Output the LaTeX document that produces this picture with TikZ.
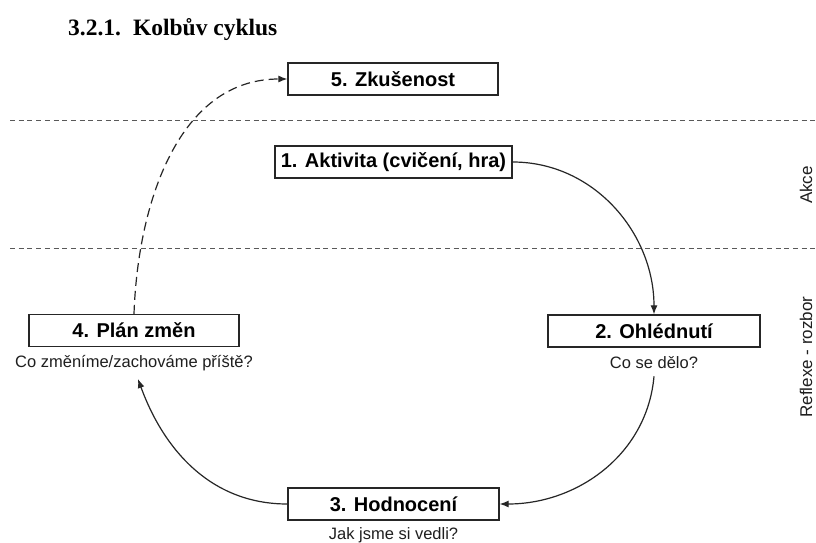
\documentclass[tikz,border=0pt]{standalone}
\usepackage{fontspec}
\setmainfont{Liberation Sans}
\newfontfamily\titlefont{Liberation Serif}
\usetikzlibrary{arrows.meta}

\begin{document}
\begin{tikzpicture}[x=1pt,y=-1pt,
  stage/.style={draw=black!85, line width=1.3pt, minimum height=32pt,
    inner sep=0pt, font=\fontsize{20}{24}\selectfont\bfseries, text=black},
  note/.style={font=\fontsize{16.5}{20}\selectfont, text=black!88, inner sep=1pt},
  side/.style={font=\fontsize{17}{20}\selectfont, text=black!88, inner sep=0pt,
    rotate=90, anchor=base},
  band/.style={draw=black!65, line width=1pt, dash pattern=on 5pt off 3.7pt},
  flow/.style={draw=black!85, line width=1.2pt, -{Latex[length=9pt,width=7pt]}},
  plan/.style={flow, dash pattern=on 9pt off 5pt}
]
\useasboundingbox[fill=white] (0,0) rectangle (816,543);

% heading
\node[anchor=base west, inner sep=0pt,
      font=\titlefont\fontsize{23.5}{28}\selectfont\bfseries] (title)
  at (68,36) {3.2.1.\hspace{12pt}Kolbův cyklus};

% band separators: action above, reflection below
\coordinate (bandA0) at (10,120);  \coordinate (bandA1) at (816,120);
\coordinate (bandB0) at (10,248);  \coordinate (bandB1) at (816,248);
\draw[band] (bandA0) -- (bandA1);
\draw[band] (bandB0) -- (bandB1);

\node[side] (akce) at (812,185) {Akce};
\node[side] (reflexe) at (812,357) {Reflexe - rozbor};

% stages of the cycle
\node[stage, minimum width=210pt] (b5) at (393,79)  {5. Zkušenost};
\node[stage, minimum width=237pt] (b1) at (393.5,162) {1. Aktivita (cvičení, hra)};
\node[stage, minimum width=212pt] (b2) at (654,331) {2. Ohlédnutí};
\node[stage, minimum width=211pt] (b3) at (393.5,504) {3. Hodnocení};
\node[stage, minimum width=210pt] (b4) at (134,330.5) {4. Plán změn};

% guiding questions
\node[note] (q2) at (654,363) {Co se dělo?};
\node[note] (q3) at (393.5,535) {Jak jsme si vedli?};
\node[note] (q4) at (134,363) {Co změníme/zachováme příště?};

% cycle connectors
\draw[flow] (b1.east) to[out=0,in=90] (b2.north);
\draw[flow] ([yshift=-6pt]q2.south) to[out=-95,in=0] (b3.east);
\draw[flow] (b3.west) to[out=180,in=-70] ([xshift=4pt,yshift=-7pt]q4.south);
\draw[plan] (b4.north) to[out=88,in=180] (b5.west);
\end{tikzpicture}
\end{document}
